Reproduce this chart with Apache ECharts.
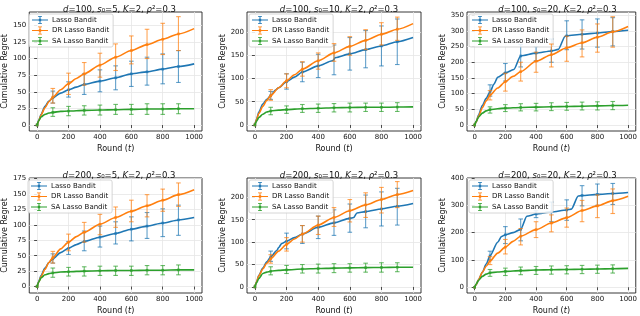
<!DOCTYPE html>
<html><head><meta charset="utf-8">
<script src="https://cdn.jsdelivr.net/npm/echarts@6/dist/echarts.min.js"></script>
<style>html,body{margin:0;padding:0;background:#fff}#c{width:640px;height:316px}</style>
</head><body><div id="c"></div>
<script>
// ---------- data ----------
const names = ['Lasso Bandit', 'DR Lasso Bandit', 'SA Lasso Bandit'];
const errX = [100, 200, 300, 400, 500, 600, 700, 800, 900];
const markX = [0, 100, 200, 300, 400, 500, 600, 700, 800, 900];
const xTicks = [0, 200, 400, 600, 800, 1000];

// plot 1: d=100, s0=5
const p1Lasso = [[0,0],[10,7],[25,16],[50,28],[75,36],[100,41],[150,48],[200,53],[250,57],[300,61],[400,66],[500,71],[600,77],[700,80],[800,84],[900,88],[1000,92]];
const p1LassoLo = [33,42,46,50,53,58,60,62,64];
const p1LassoHi = [51,65,77,83,89,96,102,107,112];
const p1DR = [[0,0],[10,6],[25,15],[50,26],[75,35],[100,42],[150,53],[200,62],[250,70],[300,77],[400,90],[500,102],[600,112],[700,121],[800,129],[900,137],[1000,145]];
const p1DRLo = [33,46,60,72,82,92,100,106,112];
const p1DRHi = [55,78,94,108,122,134,144,153,163];
const p1SA = [[0,0],[10,6],[25,12],[50,16],[75,18],[100,19],[150,20.5],[200,21],[300,22],[400,22.5],[500,23],[600,23.5],[700,24],[800,24],[900,24.5],[1000,24.5]];
const p1SALo = [13,14,15,15,16,16,16,16,17];
const p1SAHi = [26,28,29,30,31,31,32,32,32];
const p1YTicks = [0,25,50,75,100,125,150];

// plot 2: d=100, s0=10
const p2Lasso = [[0,0],[10,12],[25,28],[50,45],[75,55],[100,63],[130,75],[150,80],[200,93],[250,103],[300,114],[400,127],[490,138],[510,145],[600,153],[700,162],[800,170],[900,179],[1000,188]];
const p2LassoLo = [55,77,93,102,108,118,123,127,130];
const p2LassoHi = [72,110,135,152,172,188,203,213,228];
const p2DR = [[0,0],[10,11],[25,25],[50,40],[75,53],[100,63],[150,80],[200,95],[250,108],[300,120],[400,138],[500,155],[600,169],[700,182],[800,195],[900,206],[1000,218]];
const p2DRLo = [53,80,105,120,137,150,162,172,182];
const p2DRHi = [76,110,136,155,175,190,205,220,232];
const p2SA = [[0,0],[10,8],[25,16],[50,23],[75,28],[100,30],[150,32],[200,33],[300,35],[400,36],[500,37],[600,37.5],[700,38],[800,38],[900,38.5],[1000,39]];
const p2SALo = [22,25,27,27,28,28,29,29,29];
const p2SAHi = [38,41,44,45,46,47,47,47,48];
const p2YTicks = [0,50,100,150,200];

// plot 3: d=100, s0=20
const p3Lasso = [[0,0],[10,10],[25,32],[50,62],[75,85],[100,105],[125,130],[150,152],[200,166],[255,177],[300,220],[400,229],[500,236],[545,241],[590,283],[600,284],[700,289],[800,293],[900,298],[1000,302]];
const p3LassoLo = [92,140,185,205,200,240,242,248,252];
const p3LassoHi = [128,196,256,250,274,332,335,338,342];
const p3DR = [[0,0],[10,10],[25,28],[50,55],[75,77],[100,95],[150,118],[200,138],[250,155],[300,170],[400,203],[500,224],[600,246],[700,262],[800,280],[900,297],[1000,314]];
const p3DRLo = [80,108,140,168,185,203,217,232,248];
const p3DRHi = [110,165,200,232,258,283,303,322,345];
const p3SA = [[0,0],[10,12],[25,25],[50,38],[75,45],[100,49],[150,52],[200,54],[300,56],[400,57],[500,58],[600,59],[700,60],[800,61],[900,62],[1000,63]];
const p3SALo = [38,43,45,45,46,47,48,48,49];
const p3SAHi = [58,65,68,69,71,72,73,74,75];
const p3YTicks = [0,50,100,150,200,250,300,350];

// plot 4: d=200, s0=5
const p4Lasso = [[0,0],[10,8],[25,18],[50,30],[75,39],[100,45],[150,55],[200,62],[250,68],[300,73],[400,80],[500,86],[600,93],[700,98],[800,103],[900,108],[1000,112]];
const p4LassoLo = [38,52,58,64,69,74,78,81,83];
const p4LassoHi = [53,73,90,98,105,113,120,126,132];
const p4DR = [[0,0],[10,7],[25,16],[50,28],[75,39],[100,47],[150,61],[200,72],[250,81],[300,88],[400,101],[500,112],[600,122],[700,131],[800,140],[900,149],[1000,157]];
const p4DRLo = [38,58,72,84,96,105,113,122,130];
const p4DRHi = [57,85,104,117,129,140,149,158,168];
const p4SA = [[0,0],[10,7],[25,14],[50,19],[75,21],[100,22],[150,23.5],[200,24],[300,25],[400,25.5],[500,26],[600,26],[700,26.5],[800,26.5],[900,27],[1000,27]];
const p4SALo = [15,17,17,18,18,18,19,19,19];
const p4SAHi = [30,31,32,33,33,33,34,34,35];
const p4YTicks = [0,25,50,75,100,125,150,175];

// plot 5: d=200, s0=10
const p5Lasso = [[0,0],[10,11],[25,26],[50,42],[75,56],[100,67],[140,82],[150,88],[170,97],[200,102],[250,110],[300,118],[400,133],[500,143],[600,153],[625,155],[645,165],[700,168],[800,174],[900,180],[1000,186]];
const p5LassoLo = [57,85,97,108,115,122,132,136,138];
const p5LassoHi = [80,120,137,158,172,185,205,212,220];
const p5DR = [[0,0],[10,11],[25,25],[50,40],[75,53],[100,63],[150,80],[200,95],[250,107],[300,118],[400,138],[500,155],[600,170],[700,183],[800,195],[900,206],[1000,215]];
const p5DRLo = [53,80,100,117,135,145,155,165,177];
const p5DRHi = [72,110,137,158,177,195,210,222,235];
const p5SA = [[0,0],[10,9],[25,19],[50,30],[75,33],[100,35],[150,37],[200,38],[300,40],[400,41],[500,42],[600,42.5],[700,43],[800,43.5],[900,44],[1000,44]];
const p5SALo = [27,30,31,31,32,33,33,33,34];
const p5SAHi = [45,48,50,51,52,52,53,54,54];
const p5YTicks = [0,50,100,150,200];

// plot 6: d=200, s0=20
const p6Lasso = [[0,0],[10,10],[25,27],[50,55],[75,85],[100,115],[150,165],[175,186],[200,192],[250,200],[300,212],[340,260],[400,268],[500,276],[600,283],[630,286],[675,334],[700,336],[800,340],[900,343],[1000,347]];
const p6LassoLo = [100,160,170,255,240,245,298,300,303];
const p6LassoHi = [132,222,250,280,312,320,372,378,380];
const p6DR = [[0,0],[10,10],[25,27],[50,55],[75,77],[100,96],[150,125],[200,147],[250,168],[300,187],[400,211],[500,235],[600,255],[700,281],[800,298],[900,317],[1000,333]];
const p6DRLo = [83,122,155,182,203,220,240,255,270];
const p6DRHi = [112,175,215,240,265,290,318,338,360];
const p6SA = [[0,0],[10,12],[25,25],[50,40],[75,48],[100,53],[150,56],[200,58],[300,61],[400,63],[500,64],[600,65],[700,66],[800,67],[900,68],[1000,69]];
const p6SALo = [40,43,46,47,48,49,50,51,52];
const p6SAHi = [65,70,74,76,78,79,80,81,82];
const p6YTicks = [0,100,200,300,400];

// ---------- layout / styles ----------
const colors = ['#1f77b4', '#ff7f0e', '#2ca02c'];
const FONT = 'DejaVu Sans';
const plots = [
  {d:100, s:5,  lines:[p1Lasso,p1DR,p1SA], lo:[p1LassoLo,p1DRLo,p1SALo], hi:[p1LassoHi,p1DRHi,p1SAHi], ticks:p1YTicks, ymin:-9,  ymax:170, g:[27,12,175,119]},
  {d:100, s:10, lines:[p2Lasso,p2DR,p2SA], lo:[p2LassoLo,p2DRLo,p2SALo], hi:[p2LassoHi,p2DRHi,p2SAHi], ticks:p2YTicks, ymin:-13, ymax:243, g:[247,12,174,119]},
  {d:100, s:20, lines:[p3Lasso,p3DR,p3SA], lo:[p3LassoLo,p3DRLo,p3SALo], hi:[p3LassoHi,p3DRHi,p3SAHi], ticks:p3YTicks, ymin:-19, ymax:360, g:[467,12,171,119]},
  {d:200, s:5,  lines:[p4Lasso,p4DR,p4SA], lo:[p4LassoLo,p4DRLo,p4SALo], hi:[p4LassoHi,p4DRHi,p4SAHi], ticks:p4YTicks, ymin:-10.5, ymax:176, g:[26,178,176,119]},
  {d:200, s:10, lines:[p5Lasso,p5DR,p5SA], lo:[p5LassoLo,p5DRLo,p5SALo], hi:[p5LassoHi,p5DRHi,p5SAHi], ticks:p5YTicks, ymin:-13.5, ymax:243, g:[247,178,174,119]},
  {d:200, s:20, lines:[p6Lasso,p6DR,p6SA], lo:[p6LassoLo,p6DRLo,p6SALo], hi:[p6LassoHi,p6DRHi,p6SAHi], ticks:p6YTicks, ymin:-21, ymax:400, g:[467,178,171,119]}
];

function lookup(line, x) {
  for (const p of line) if (p[0] === x) return p[1];
  return null;
}
function renderErr(params, api) {
  const x = api.value(0), lo = api.value(1), hi = api.value(2);
  const a = api.coord([x, lo]), b = api.coord([x, hi]);
  const w = 2.3;
  const st = {stroke: api.visual('color'), lineWidth: 1.1, opacity: 0.7};
  return {type: 'group', children: [
    {type: 'line', shape: {x1: a[0], y1: a[1], x2: b[0], y2: b[1]}, style: st},
    {type: 'line', shape: {x1: a[0]-w, y1: a[1], x2: a[0]+w, y2: a[1]}, style: st},
    {type: 'line', shape: {x1: b[0]-w, y1: b[1], x2: b[0]+w, y2: b[1]}, style: st}
  ]};
}

const grid = [], xAxis = [], yAxis = [], series = [], title = [], legend = [];
const errIcon = 'path://M0,4.4h20v1.2h-20z M9.4,0h1.2v10h-1.2z M7.5,0h5v1h-5z M7.5,9h5v1h-5z M8.5,3.5h3v3h-3z';
const lblStyle = {fontFamily: FONT, color: '#111'};
const plain = v => String(v);

plots.forEach((p, i) => {
  const [l, t, w, h] = p.g;
  grid.push({left: l, top: t, width: w, height: h, show: true, borderColor: '#222', borderWidth: 0.9, backgroundColor: 'transparent'});
  xAxis.push({
    type: 'value', gridIndex: i, min: -50, max: 1050,
    name: 'Round ({i|t})', nameLocation: 'middle', nameGap: 14,
    nameTextStyle: {fontFamily: FONT, fontSize: 8, color: '#111', rich: {i: {fontFamily: FONT, fontSize: 8, fontStyle: 'italic', color: '#111'}}},
    axisLine: {show: false},
    axisTick: {show: true, length: 3, customValues: xTicks, lineStyle: {color: '#222', width: 0.8}},
    axisLabel: {customValues: xTicks, fontSize: 7, margin: 3, formatter: plain, ...lblStyle},
    splitLine: {show: true, lineStyle: {color: '#e6e6e6', width: 0.8}}
  });
  yAxis.push({
    type: 'value', gridIndex: i, min: p.ymin, max: p.ymax,
    name: 'Cumulative Regret', nameLocation: 'middle', nameGap: 19, nameRotate: 90,
    nameTextStyle: {fontFamily: FONT, fontSize: 8, color: '#111'},
    axisLine: {show: false},
    axisTick: {show: true, length: 3, customValues: p.ticks, lineStyle: {color: '#222', width: 0.8}},
    axisLabel: {customValues: p.ticks, fontSize: 7, margin: 3, formatter: plain, ...lblStyle},
    splitLine: {show: true, lineStyle: {color: '#e6e6e6', width: 0.8}}
  });
  title.push({
    text: '{i|d}=' + p.d + ', {i|s}\u2080=' + p.s + ', {i|K}=2, {i|\u03c1}\u00b2=0.3',
    left: l + w / 2, top: t - 12, textAlign: 'center',
    textStyle: {fontFamily: FONT, fontSize: 8.5, fontWeight: 'normal', color: '#111',
      rich: {i: {fontFamily: FONT, fontSize: 8.5, fontStyle: 'italic', color: '#111'}}}
  });
  legend.push({
    left: l + 2, top: t + 2, orient: 'vertical', data: names,
    itemWidth: 16, itemHeight: 8, itemGap: 2.5, icon: errIcon,
    padding: [2, 4, 2, 3], backgroundColor: 'rgba(255,255,255,0.85)',
    borderColor: '#cccccc', borderWidth: 0.8, borderRadius: 2,
    textStyle: {fontFamily: FONT, fontSize: 7, color: '#111', padding: [0, 0, 0, -1]},
    selectedMode: false
  });
  for (let k = 0; k < 3; k++) {
    const line = p.lines[k];
    series.push({
      type: 'line', name: names[k], xAxisIndex: i, yAxisIndex: i,
      data: line, showSymbol: false, smooth: 0.25, smoothMonotone: 'x',
      lineStyle: {color: colors[k], width: 1.6}, itemStyle: {color: colors[k]},
      z: 3 + k, animation: false
    });
    const errData = errX.map((x, j) => [x, p.lo[k][j], p.hi[k][j]]);
    series.push({
      type: 'custom', xAxisIndex: i, yAxisIndex: i, renderItem: renderErr,
      data: errData, encode: {x: 0, y: [1, 2]}, itemStyle: {color: colors[k]},
      z: 3 + k, animation: false, silent: true
    });
    series.push({
      type: 'scatter', xAxisIndex: i, yAxisIndex: i,
      data: markX.map(x => [x, lookup(line, x)]), symbol: 'rect', symbolSize: 2.6,
      itemStyle: {color: colors[k]}, z: 3 + k, animation: false, silent: true
    });
  }
});

const chart = echarts.init(document.getElementById('c'), null, {renderer: 'canvas'});
chart.setOption({animation: false, backgroundColor: '#fff', color: colors, title, legend, grid, xAxis, yAxis, series});
</script></body></html>
